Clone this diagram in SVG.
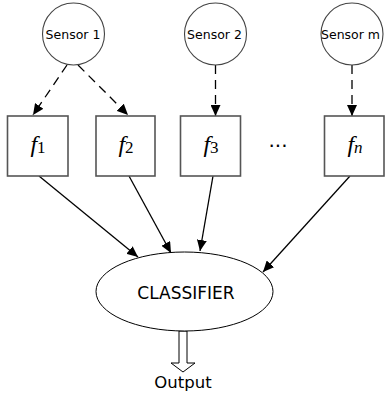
<svg xmlns="http://www.w3.org/2000/svg" width="385" height="398" viewBox="0 0 385 398">
<style>
.sensor{fill:#fff;stroke:#444;stroke-width:1.1}
.slabel{font-family:"DejaVu Sans",sans-serif;font-size:12.5px;fill:#000;text-anchor:middle}
.box{fill:#fff;stroke:#555;stroke-width:1.6}
.flabel{font-family:"Liberation Serif",serif;font-size:24px;fill:#000;text-anchor:middle}
.dash{stroke:#000;stroke-width:1.3;stroke-dasharray:9 6;fill:none}
.solid{stroke:#000;stroke-width:1.3;fill:none}
.big{font-family:"DejaVu Sans",sans-serif;fill:#000;text-anchor:middle}
</style>
<defs>
<marker id="ah" markerUnits="userSpaceOnUse" markerWidth="12" markerHeight="10" refX="11" refY="5" orient="auto">
<path d="M0,0 L11,5 L0,10 Z" fill="#000"/>
</marker>
</defs>
<g id="connectors">
<line class="dash" x1="67" y1="65" x2="33" y2="115" marker-end="url(#ah)"/>
<line class="dash" x1="78" y1="65" x2="128" y2="115" marker-end="url(#ah)"/>
<line class="dash" x1="215.5" y1="65" x2="215.5" y2="116" marker-end="url(#ah)"/>
<line class="dash" x1="352" y1="65" x2="352" y2="116" marker-end="url(#ah)"/>
<line class="solid" x1="39" y1="176" x2="138" y2="257" marker-end="url(#ah)"/>
<line class="solid" x1="129" y1="176" x2="171" y2="253" marker-end="url(#ah)"/>
<line class="solid" x1="213" y1="176" x2="200" y2="251" marker-end="url(#ah)"/>
<line class="solid" x1="350" y1="176" x2="263" y2="272" marker-end="url(#ah)"/>
<path id="output-arrow" d="M179,331 L187,331 L187,363 L195,363 L183,372 L171,363 L179,363 Z" fill="#fff" stroke="#000" stroke-width="1"/>
</g>
<g id="sensor1"><circle class="sensor" cx="73.5" cy="34" r="31"/><text class="slabel" x="73" y="39">Sensor 1</text></g>
<g id="sensor2"><circle class="sensor" cx="215.5" cy="34" r="31"/><text class="slabel" x="214.5" y="39">Sensor 2</text></g>
<g id="sensorm"><circle class="sensor" cx="352" cy="34" r="31"/><text class="slabel" x="350.5" y="39">Sensor m</text></g>
<g id="f1"><rect class="box" x="7.5" y="116" width="60.5" height="60"/><text class="flabel" x="38" y="152"><tspan font-style="italic">f</tspan><tspan font-size="17" dy="1">1</tspan></text></g>
<g id="f2"><rect class="box" x="96" y="116" width="59" height="60"/><text class="flabel" x="126" y="152"><tspan font-style="italic">f</tspan><tspan font-size="17" dy="1">2</tspan></text></g>
<g id="f3"><rect class="box" x="180.5" y="116" width="60" height="60"/><text class="flabel" x="211" y="152"><tspan font-style="italic">f</tspan><tspan font-size="17" dy="1">3</tspan></text></g>
<g id="dots"><text class="big" x="278" y="147" font-size="20">...</text></g>
<g id="fn"><rect class="box" x="324.5" y="116" width="59.5" height="60"/><text class="flabel" x="355" y="152"><tspan font-style="italic">f</tspan><tspan font-size="17" dy="1" font-style="italic">n</tspan></text></g>
<g id="classifier"><ellipse cx="184.5" cy="291.5" rx="88.5" ry="39.5" fill="#fff" stroke="#000" stroke-width="1"/><text class="big" x="186" y="299" font-size="17">CLASSIFIER</text></g>
<g id="output"><text class="big" x="183" y="388" font-size="16.5">Output</text></g>
</svg>
